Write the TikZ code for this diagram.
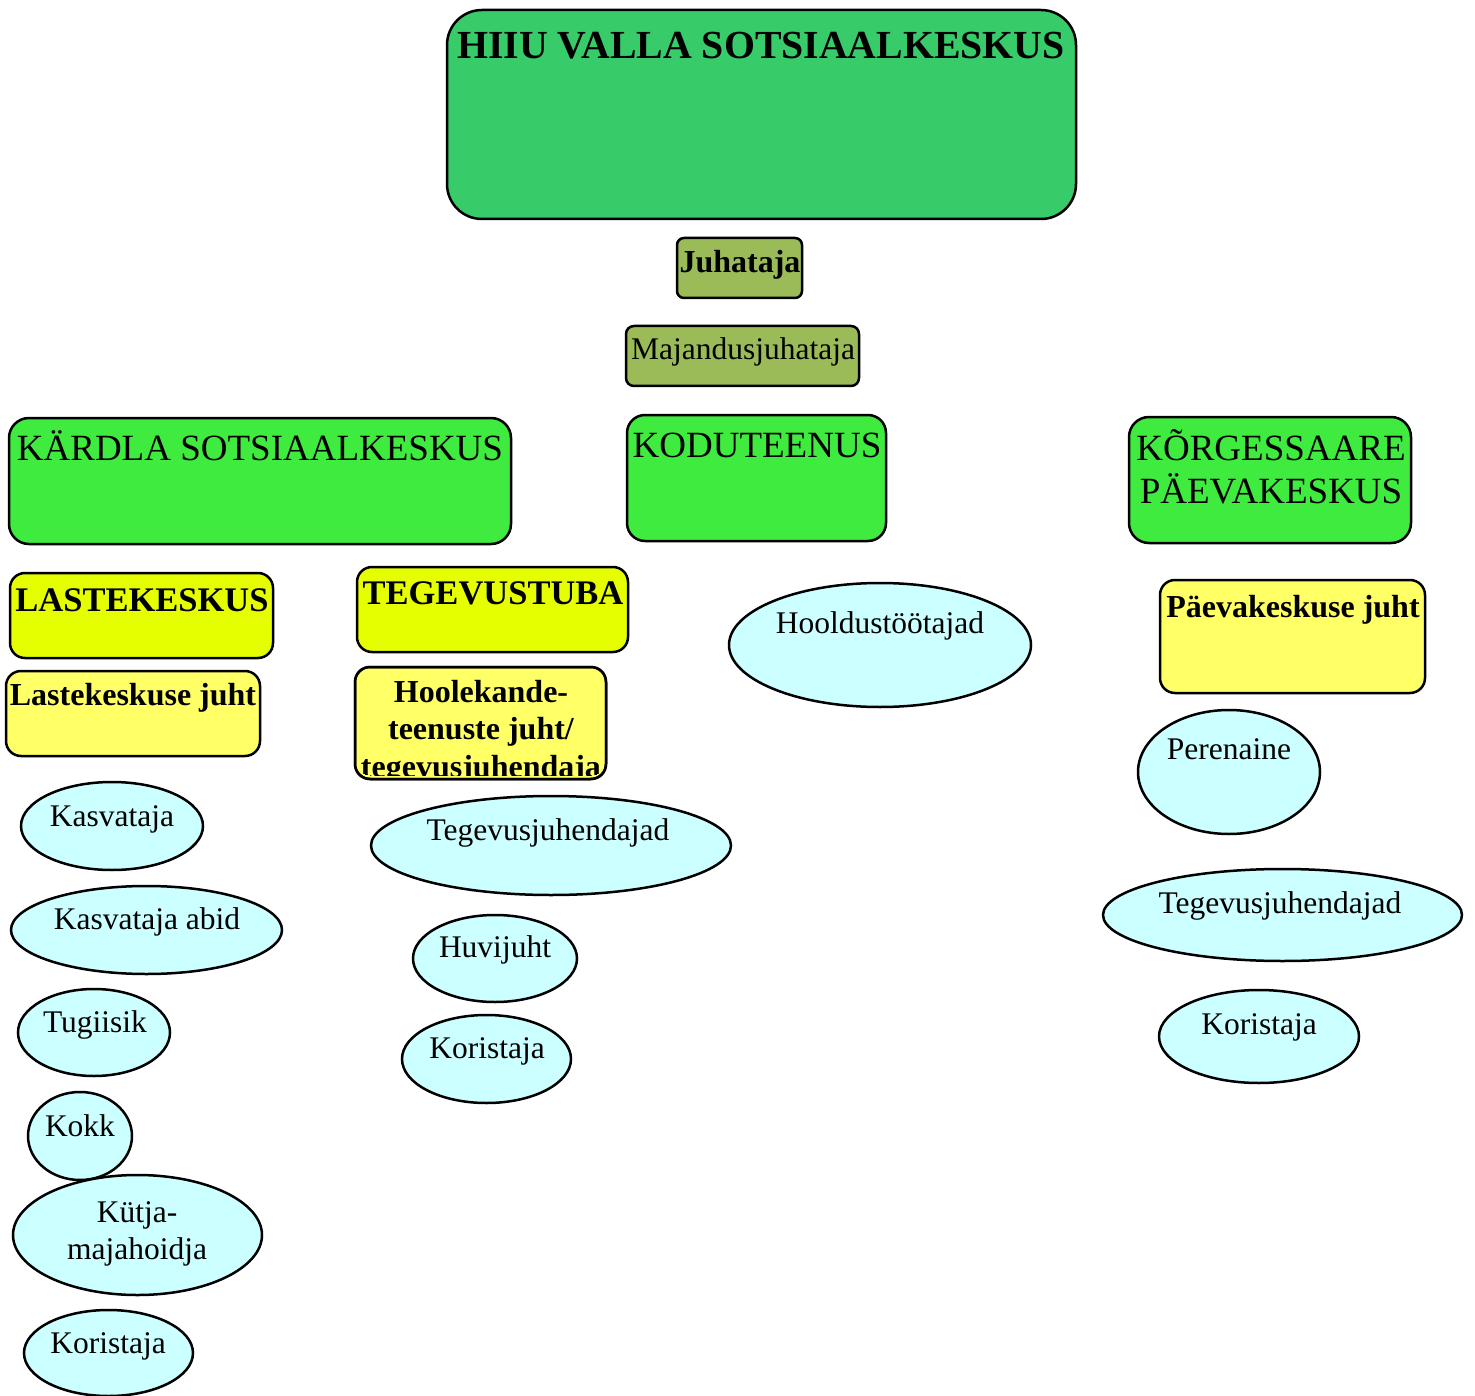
\documentclass[tikz,border=0pt]{standalone}
\usepackage{fontspec}
\setmainfont{Liberation Serif}
\usetikzlibrary{shapes.geometric}
\definecolor{topgreen}{RGB}{56,203,106}
\definecolor{olive}{RGB}{155,187,89}
\definecolor{unitgreen}{RGB}{63,235,63}
\definecolor{lime}{RGB}{230,255,0}
\definecolor{paleyellow}{RGB}{255,255,102}
\definecolor{palecyan}{RGB}{204,255,255}

\begin{document}
\begin{tikzpicture}[x=1pt,y=-1pt,
 box/.style={rectangle,draw=black,line width=2.5pt,inner sep=0pt,outer sep=0pt,rounded corners=#1},
 box/.default=15pt,
 staff/.style={ellipse,draw=black,line width=2.5pt,fill=palecyan,inner sep=0pt,outer sep=0pt},
 title/.style={anchor=base,font=\bfseries\fontsize{39.8}{44}\selectfont},
 big/.style={anchor=base,align=center,font=\fontsize{37}{42.5}\selectfont},
 head/.style={anchor=base,font=\bfseries\fontsize{34.5}{38}\selectfont},
 boss/.style={anchor=base,align=center,font=\bfseries\fontsize{32}{37.5}\selectfont},
 txt/.style={anchor=base,align=center,font=\fontsize{31.5}{36.5}\selectfont}]
\useasboundingbox (0,0) rectangle (1475,1396);

\node[box=35pt,fill=topgreen,minimum width=629,minimum height=209] (hiiu) at (761.5,114.5) {};
\node[title] (hiiutxt) at (761,59) {HIIU VALLA SOTSIAALKESKUS};
\node[box=7pt,fill=olive,minimum width=125,minimum height=60] (juht) at (739.5,268) {};
\node[boss] (juhttxt) at (740,273) {Juhataja};
\node[box=8pt,fill=olive,minimum width=233,minimum height=60] (maj) at (742.5,356) {};
\node[txt] (majtxt) at (743,360) {Majandusjuhataja};

\node[box=20pt,fill=unitgreen,minimum width=502,minimum height=126] (kardla) at (260,481) {};
\node[big] (kardlatxt) at (260,460) {KÄRDLA SOTSIAALKESKUS};
\node[box=18pt,fill=unitgreen,minimum width=259,minimum height=126] (kodu) at (756.5,478) {};
\node[big] (kodutxt) at (757,457) {KODUTEENUS};
\node[box=20pt,fill=unitgreen,minimum width=282,minimum height=126] (korg) at (1270,480) {};
\node[big] (korgtxt) at (1271,503) {KÕRGESSAARE\\PÄEVAKESKUS};

\node[box,fill=lime,minimum width=263,minimum height=85] (laste) at (141.5,615.5) {};
\node[head] (lastetxt) at (142,611) {LASTEKESKUS};
\node[box,fill=lime,minimum width=271,minimum height=85] (tuba) at (492.5,609.5) {};
\node[head] (tubatxt) at (493,604) {TEGEVUSTUBA};

\node[box,fill=paleyellow,minimum width=254,minimum height=85] (lj) at (133,713.5) {};
\node[boss] (ljtxt) at (133,705) {Lastekeskuse juht};
\node[box,fill=paleyellow,minimum width=251,minimum height=112] (hool) at (480.5,723) {};
\begin{scope}
\clip[rounded corners=15pt] (hool.north west) rectangle ([yshift=4pt]hool.south east);
\node[boss] (hooltxt) at (481,777) {Hoolekande-\\teenuste juht/\\tegevusjuhendaja};
\end{scope}
\draw[line width=2.5pt,rounded corners=15pt] (hool.north west) rectangle (hool.south east);
\node[box,fill=paleyellow,minimum width=265,minimum height=113] (pj) at (1292.5,636.5) {};
\node[boss] (pjtxt) at (1293,617) {Päevakeskuse juht};

\foreach \n/\cx/\cy/\rx/\ry/\tx/\by/\t in {
 hoold/880/645/151/62/880/633/Hooldustöötajad,
 kasv/112/826/91/44/112/826/Kasvataja,
 abid/146.5/930/135.5/44/147/929/Kasvataja abid,
 tugi/94/1032.5/76/43.5/95/1032/Tugiisik,
 kokk/80/1136/52/44/80/1136/Kokk,
 kor1/108.5/1353/84.5/43/108/1353/Koristaja,
 teg1/551/845.5/180/49.5/548/840/Tegevusjuhendajad,
 huvi/495/958.5/82/43.5/495/957/Huvijuht,
 kor2/486.5/1059/84.5/44/487/1058/Koristaja,
 pere/1229/772/91/62/1229/759/Perenaine,
 teg2/1282.5/915/179.5/46/1280/913/Tegevusjuhendajad,
 kor3/1259/1036.5/100/46.5/1259/1034/Koristaja}{
 \node[staff,minimum width=2*\rx,minimum height=2*\ry] (\n) at (\cx,\cy) {};
 \node[txt] (\n txt) at (\tx,\by) {\t};
 }
\node[staff,minimum width=249,minimum height=120] (kutja) at (137.5,1235) {};
\node[txt] (kutjatxt) at (137,1259) {Kütja-\\majahoidja};
\end{tikzpicture}
\end{document}
